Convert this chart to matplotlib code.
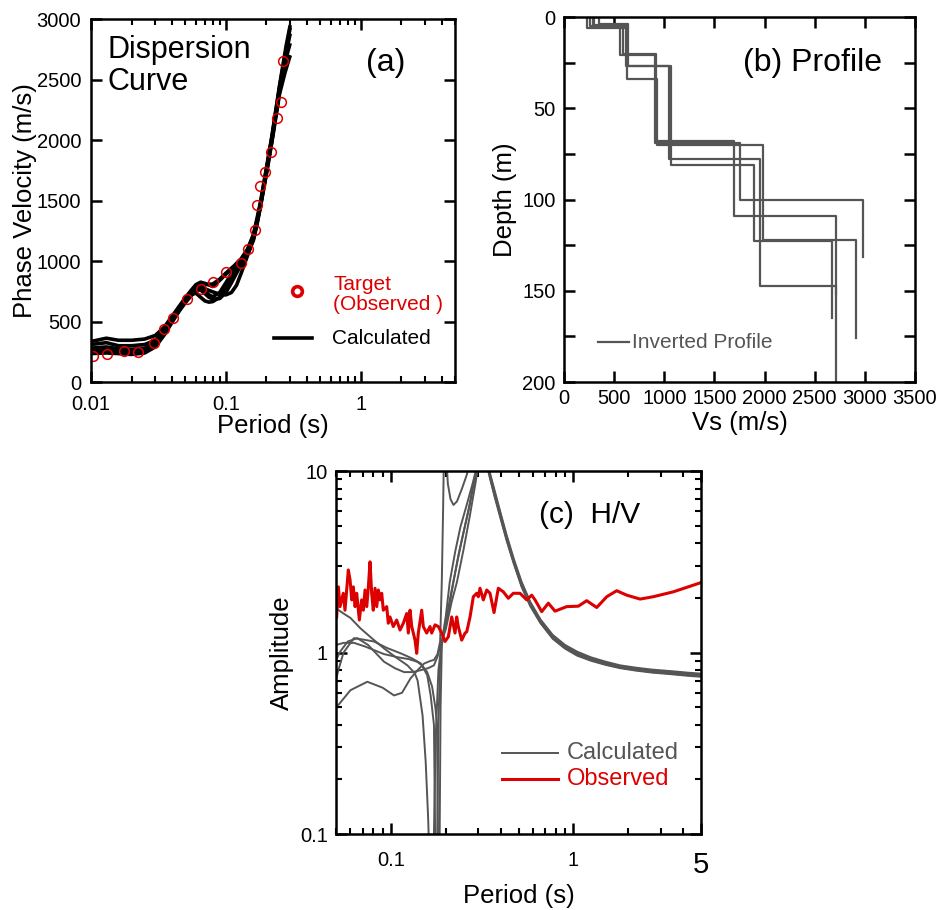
import numpy as np
import matplotlib
matplotlib.use("Agg")
import matplotlib.pyplot as plt
from matplotlib.ticker import FixedLocator, MultipleLocator, LogLocator, NullFormatter

plt.rcParams['font.family'] = ['Liberation Sans', 'DejaVu Sans']

# ---------------- (a) dispersion curve ----------------
target_period = [0.0104, 0.0131, 0.0176, 0.0224, 0.0294, 0.0349, 0.0403, 0.0511, 0.0649,
                 0.0805, 0.101, 0.1285, 0.147, 0.164, 0.1706, 0.1786, 0.1955, 0.2143,
                 0.2375, 0.2543, 0.2658]
target_vel = [215, 231, 259, 251, 320, 438, 532, 683, 766, 826, 906, 983, 1102, 1256,
              1463, 1622, 1733, 1898, 2184, 2311, 2655]

calc_disp = [
    ([0.01, 0.013, 0.016, 0.02, 0.025, 0.03, 0.035, 0.04, 0.045, 0.05, 0.055, 0.06, 0.065, 0.07,
      0.08, 0.09, 0.1, 0.115, 0.13, 0.145, 0.16, 0.17, 0.18, 0.2, 0.22, 0.25, 0.275, 0.3],
     [335, 362, 345, 345, 355, 385, 455, 545, 625, 695, 755, 805, 825, 815,
      790, 840, 890, 955, 1010, 1090, 1210, 1330, 1460, 1760, 2030, 2440, 2700, 2930]),
    ([0.01, 0.013, 0.016, 0.02, 0.025, 0.03, 0.035, 0.04, 0.045, 0.05, 0.055, 0.06, 0.065, 0.07,
      0.075, 0.08, 0.09, 0.1, 0.115, 0.13, 0.145, 0.16, 0.17, 0.18, 0.2, 0.22, 0.25, 0.28, 0.3],
     [310, 325, 300, 300, 310, 345, 430, 530, 615, 690, 745, 785, 790, 760,
      720, 705, 740, 820, 930, 1000, 1070, 1190, 1320, 1450, 1740, 2010, 2420, 2650, 2700]),
    ([0.01, 0.013, 0.016, 0.02, 0.025, 0.03, 0.035, 0.04, 0.045, 0.05, 0.055, 0.06, 0.065, 0.07,
      0.075, 0.08, 0.09, 0.1, 0.115, 0.13, 0.145, 0.16, 0.17, 0.18, 0.2, 0.22, 0.25, 0.275, 0.3],
     [280, 290, 275, 270, 280, 320, 420, 520, 600, 670, 720, 735, 700, 670,
      660, 665, 700, 780, 900, 990, 1060, 1170, 1300, 1440, 1720, 1990, 2380, 2560, 2700]),
    ([0.01, 0.013, 0.016, 0.02, 0.025, 0.03, 0.035, 0.04, 0.045, 0.05, 0.055, 0.06, 0.065, 0.07,
      0.08, 0.09, 0.1, 0.11, 0.12, 0.13, 0.14, 0.15, 0.16, 0.17, 0.18, 0.2, 0.22, 0.25, 0.28, 0.3],
     [255, 255, 250, 245, 255, 300, 400, 505, 590, 660, 715, 755, 775, 770,
      745, 725, 720, 740, 800, 900, 1000, 1090, 1190, 1320, 1460, 1750, 2020, 2400, 2720, 2880]),
    ([0.01, 0.013, 0.016, 0.02, 0.025, 0.03, 0.035, 0.04, 0.045, 0.05, 0.055, 0.06, 0.065, 0.07,
      0.08, 0.09, 0.1, 0.115, 0.13, 0.145, 0.16, 0.17, 0.18, 0.2, 0.22, 0.25, 0.28, 0.3],
     [235, 240, 235, 228, 240, 290, 390, 495, 585, 655, 710, 760, 795, 805,
      810, 850, 900, 960, 1020, 1100, 1220, 1350, 1480, 1770, 2040, 2450, 2780, 2950]),
    ([0.01, 0.013, 0.016, 0.02, 0.025, 0.03, 0.035, 0.04, 0.045, 0.05, 0.055, 0.06, 0.065, 0.07,
      0.075, 0.08, 0.09, 0.1, 0.11, 0.12, 0.13, 0.145, 0.16, 0.17, 0.18, 0.2, 0.22, 0.25, 0.28, 0.3],
     [270, 275, 260, 258, 265, 310, 410, 515, 600, 670, 725, 760, 760, 730,
      700, 685, 690, 740, 820, 900, 970, 1060, 1180, 1310, 1450, 1730, 2000, 2400, 2680, 2800]),
]

# ---------------- (b) Vs profiles ----------------
profile_vs = [
    [352, 638, 1070, 1890, 2670],
    [259, 585, 915, 1700, 2711],
    [233, 615, 1048, 1953, 2711],
    [292, 558, 905, 1753, 2978],
    [300, 630, 930, 1986, 2911],
]
profile_bounds = [
    [0, 4, 27, 81, 123, 165],
    [0, 5, 20, 68, 109, 200],
    [0, 6, 27, 78, 147.5, 152],
    [0, 4.5, 21, 69, 100, 131.5],
    [0, 5, 34, 70, 122, 176],
]

# ---------------- (c) H/V ----------------
hv_period = [0.0504, 0.0515, 0.0526, 0.0548, 0.0560, 0.0584, 0.0597, 0.0610, 0.0622, 0.0636,
             0.0649, 0.0671, 0.0691, 0.0706, 0.0721, 0.0737, 0.0752, 0.0768, 0.0784, 0.0800,
             0.0818, 0.0836, 0.0853, 0.0871, 0.0890, 0.0908, 0.0948, 0.0967, 0.0988, 0.1030,
             0.1075, 0.1121, 0.1169, 0.1220, 0.1245, 0.1272, 0.1300, 0.1355, 0.1384, 0.1412,
             0.1474, 0.1504, 0.1570, 0.1637, 0.1672, 0.1744, 0.1818, 0.1897, 0.1978, 0.2062,
             0.2153, 0.2244, 0.2292, 0.2339, 0.2442, 0.2546, 0.2601, 0.2712, 0.2827, 0.2951,
             0.3011, 0.3076, 0.3207, 0.3348, 0.349, 0.3671, 0.3875, 0.4127, 0.4397, 0.4683,
             0.5095, 0.5544, 0.5906, 0.6156, 0.670, 0.7284, 0.7924, 0.9183, 1.0636, 1.182,
             1.341, 1.522, 1.726, 1.958, 2.317, 2.739, 3.525, 4.83, 5.0]
hv_amp = [1.57, 2.30, 1.79, 2.12, 1.71, 2.85, 2.51, 1.95, 2.30, 1.79,
          2.12, 1.51, 1.95, 1.71, 2.21, 1.79, 2.30, 3.16, 2.12, 1.71,
          2.26, 1.79, 2.21, 1.95, 2.12, 1.71, 1.79, 1.45, 1.57, 1.39,
          1.51, 1.33, 1.45, 1.64, 1.28, 1.71, 1.39, 1.17, 0.99, 1.28,
          1.71, 1.39, 1.28, 1.39, 1.28, 1.42, 1.39, 1.28, 1.15, 1.22,
          1.57, 1.28, 1.57, 1.39, 1.17, 1.28, 1.30, 1.57, 2.03, 2.12,
          2.03, 2.26, 1.95, 2.21, 2.12, 1.66, 2.26, 2.16, 1.99, 2.12,
          2.12, 1.95, 2.07, 1.95, 1.68, 1.87, 1.69, 1.79, 1.80, 1.93,
          1.77, 2.03, 2.19, 2.07, 1.97, 2.03, 2.16, 2.40, 2.43]

tail_period = [0.31, 0.33, 0.35, 0.37, 0.40, 0.43, 0.47, 0.52, 0.58, 0.66, 0.77, 0.9, 1.05,
               1.25, 1.5, 1.8, 2.2, 2.7, 3.4, 4.2, 5.0]
calc_hv = [
    ([0.05, 0.055, 0.06, 0.068, 0.08, 0.092, 0.105, 0.123, 0.135, 0.14, 0.149, 0.155, 0.16,
      0.164, 0.168, 0.172, 0.176, 0.182, 0.19, 0.2, 0.21, 0.225, 0.24, 0.26, 0.28, 0.295],
     [1.75, 1.64, 1.55, 1.36, 1.18, 1.05, 0.95, 0.85, 0.77, 0.70, 0.45, 0.25, 0.12,
      0.05, 0.03, 0.1, 0.35, 0.8, 1.15, 1.6, 2.45, 3.6, 4.9, 6.5, 8.5, 10.5],
     [20, 12.5, 9.6, 7.8, 5.8, 4.45, 3.3, 2.45, 1.9, 1.52, 1.25, 1.10, 1.01, 0.94, 0.89,
      0.85, 0.825, 0.805, 0.79, 0.775, 0.765]),
    ([0.05, 0.052, 0.06, 0.0742, 0.09, 0.104, 0.115, 0.128, 0.14, 0.152, 0.165, 0.172, 0.18,
      0.186, 0.19, 0.193, 0.195, 0.198, 0.201, 0.205, 0.212, 0.22, 0.23, 0.245, 0.26, 0.27, 0.29],
     [0.50, 0.52, 0.62, 0.69, 0.64, 0.58, 0.60, 0.72, 0.80, 0.87, 0.90, 0.91, 0.98,
      1.15, 2.5, 6.0, 12, 20, 12, 8.5, 7.0, 6.5, 6.8, 8.0, 9.5, 11, 20],
     [20, 12.0, 9.3, 7.5, 5.6, 4.3, 3.2, 2.35, 1.85, 1.48, 1.22, 1.07, 0.98, 0.92, 0.87,
      0.835, 0.81, 0.79, 0.775, 0.76, 0.75]),
    ([0.05, 0.0515, 0.055, 0.0627, 0.07, 0.0807, 0.095, 0.113, 0.13, 0.146, 0.158, 0.165, 0.172,
      0.175, 0.178, 0.182, 0.186, 0.19, 0.2, 0.22, 0.235, 0.25, 0.27, 0.285, 0.298],
     [0.71, 0.80, 1.0, 1.20, 1.18, 1.15, 1.06, 0.99, 0.93, 0.87, 0.75, 0.58, 0.40,
      0.08, 0.04, 0.4, 0.9, 1.15, 1.4, 2.45, 3.5, 4.6, 6.5, 8.8, 10.5],
     [20, 11.5, 9.0, 7.2, 5.4, 4.15, 3.1, 2.3, 1.80, 1.45, 1.19, 1.05, 0.96, 0.90, 0.855,
      0.82, 0.795, 0.775, 0.76, 0.745, 0.735]),
    ([0.05, 0.053, 0.058, 0.0654, 0.075, 0.0916, 0.105, 0.118, 0.132, 0.146, 0.16, 0.172, 0.18,
      0.187, 0.2, 0.215, 0.23, 0.25, 0.27, 0.29, 0.30],
     [0.91, 1.02, 1.15, 1.20, 1.10, 0.89, 0.82, 0.78, 0.78, 0.80, 0.82, 0.85, 0.95,
      1.1, 1.35, 1.9, 2.45, 3.7, 5.6, 8.5, 10.5],
     [20, 12.2, 9.4, 7.6, 5.7, 4.35, 3.25, 2.4, 1.87, 1.50, 1.23, 1.08, 0.99, 0.93, 0.88,
      0.84, 0.815, 0.795, 0.78, 0.765, 0.755]),
    ([0.05, 0.055, 0.0627, 0.072, 0.0916, 0.11, 0.125, 0.139, 0.148, 0.158, 0.168, 0.175, 0.179,
      0.181, 0.184, 0.187, 0.19, 0.2, 0.215, 0.227, 0.245, 0.265, 0.285, 0.298],
     [1.10, 1.13, 1.13, 1.08, 0.98, 0.94, 0.92, 0.89, 0.85, 0.78, 0.65, 0.50, 0.40,
      0.06, 0.05, 0.5, 1.1, 1.5, 2.2, 2.9, 4.2, 6.0, 8.6, 10.5],
     [20, 11.8, 9.1, 7.35, 5.5, 4.2, 3.15, 2.32, 1.82, 1.46, 1.20, 1.06, 0.97, 0.91, 0.86,
      0.825, 0.80, 0.78, 0.765, 0.75, 0.74]),
]

fig = plt.figure(figsize=(9.42, 9.10), dpi=100)
ax_a = fig.add_axes([0.0966, 0.5802, 0.3864, 0.3989])
ax_b = fig.add_axes([0.5987, 0.5802, 0.3726, 0.4011])
ax_c = fig.add_axes([0.3567, 0.0835, 0.3875, 0.3989])

tick_fs = 14.5
label_fs = 18.5
gray = '#555555'
red = '#dd0000'


def style(ax, xpad, ypad):
    for s in ax.spines.values():
        s.set_linewidth(1.8)
    ax.tick_params(which='both', direction='in', top=True, right=True, labelsize=tick_fs)
    ax.tick_params(which='major', length=8, width=1.8)
    ax.tick_params(which='minor', length=4.5, width=1.5)
    ax.tick_params(axis='x', which='both', pad=xpad)
    ax.tick_params(axis='y', which='both', pad=ypad)


# (a)
for per, vel in calc_disp:
    ax_a.plot(per, vel, color='black', lw=2.6, solid_capstyle='butt')
ax_a.plot(target_period, target_vel, 'o', ls='none', mfc='none', mec=red, ms=7, mew=1.1)
ax_a.set_xscale('log')
ax_a.set_xlim(0.01, 5)
ax_a.set_ylim(0, 3000)
ax_a.xaxis.set_major_locator(FixedLocator([0.01, 0.1, 1]))
ax_a.set_xticklabels(['0.01', '0.1', '1'])
ax_a.xaxis.set_minor_locator(LogLocator(base=10, subs=np.arange(2, 10)))
ax_a.xaxis.set_minor_formatter(NullFormatter())
ax_a.yaxis.set_major_locator(MultipleLocator(500))
style(ax_a, 9, 7)
ax_a.set_xlabel('Period (s)', fontsize=label_fs, labelpad=0)
ax_a.set_ylabel('Phase Velocity (m/s)', fontsize=label_fs, labelpad=0)
ax_a.text(0.044, 0.955, 'Dispersion\nCurve', transform=ax_a.transAxes, fontsize=22,
          va='top', ha='left', linespacing=1.08)
ax_a.text(0.81, 0.879, '(a)', transform=ax_a.transAxes, fontsize=23, va='center', ha='center')
ax_a.plot([0.566], [0.2507], 'o', transform=ax_a.transAxes, mfc='none', mec=red, ms=7, mew=2.6)
ax_a.text(0.665, 0.241, 'Target\n(Observed )', transform=ax_a.transAxes, color=red,
          fontsize=15, va='center', ha='left', linespacing=1.1)
ax_a.plot([0.503, 0.607], [0.121, 0.121], color='black', lw=2.6, transform=ax_a.transAxes)
ax_a.text(0.662, 0.121, 'Calculated', transform=ax_a.transAxes, fontsize=15, va='center', ha='left')

# (b)
for vs, bounds in zip(profile_vs, profile_bounds):
    xs, ys = [], []
    for i, v in enumerate(vs):
        xs += [v, v]
        ys += [bounds[i], bounds[i + 1]]
    ax_b.plot(xs, ys, color=gray, lw=1.6)
ax_b.set_xlim(0, 3500)
ax_b.set_ylim(200, 0)
ax_b.xaxis.set_major_locator(MultipleLocator(500))
ax_b.yaxis.set_major_locator(MultipleLocator(50))
ax_b.yaxis.set_minor_locator(MultipleLocator(25))
style(ax_b, 5, 6)
ax_b.tick_params(which='minor', length=8, width=1.8)
ax_b.set_xlabel('Vs (m/s)', fontsize=label_fs, labelpad=2)
ax_b.set_ylabel('Depth (m)', fontsize=label_fs, labelpad=4)
ax_b.text(0.51, 0.874, '(b) Profile', transform=ax_b.transAxes, fontsize=23, va='center', ha='left')
ax_b.plot([0.097, 0.185], [0.1096, 0.1096], color=gray, lw=1.6, transform=ax_b.transAxes)
ax_b.text(0.194, 0.1096, 'Inverted Profile', transform=ax_b.transAxes, color=gray,
          fontsize=15, va='center', ha='left')

# (c)
for per, amp, tail in calc_hv:
    ax_c.plot(list(per) + tail_period, list(amp) + tail, color=gray, lw=1.4)
ax_c.plot(hv_period, hv_amp, color=red, lw=2.2)
ax_c.set_xscale('log')
ax_c.set_yscale('log')
ax_c.set_xlim(0.05, 5)
ax_c.set_ylim(0.1, 10)
ax_c.xaxis.set_major_locator(FixedLocator([0.1, 1, 5]))
ax_c.set_xticklabels(['0.1', '1', '5'])
ax_c.xaxis.set_minor_locator(LogLocator(base=10, subs=np.arange(2, 10)))
ax_c.xaxis.set_minor_formatter(NullFormatter())
ax_c.yaxis.set_major_locator(FixedLocator([0.1, 1, 10]))
ax_c.set_yticklabels(['0.1', '1', '10'])
ax_c.yaxis.set_minor_locator(LogLocator(base=10, subs=np.arange(2, 10)))
ax_c.yaxis.set_minor_formatter(NullFormatter())
style(ax_c, 12, 6)
ax_c.get_xticklabels()[2].set_fontsize(21)
ax_c.set_xlabel('Period (s)', fontsize=label_fs, labelpad=4)
ax_c.set_ylabel('Amplitude', fontsize=label_fs, labelpad=4)
ax_c.text(0.556, 0.879, '(c)  H/V', transform=ax_c.transAxes, fontsize=21.5, va='center', ha='left')
ax_c.plot([0.455, 0.608], [0.223, 0.223], color=gray, lw=1.4, transform=ax_c.transAxes)
ax_c.text(0.633, 0.223, 'Calculated', transform=ax_c.transAxes, color=gray, fontsize=17,
          va='center', ha='left')
ax_c.plot([0.455, 0.608], [0.1515, 0.1515], color=red, lw=2.2, transform=ax_c.transAxes)
ax_c.text(0.633, 0.1515, 'Observed', transform=ax_c.transAxes, color=red, fontsize=17,
          va='center', ha='left')

fig.savefig('out.png', dpi=100)
